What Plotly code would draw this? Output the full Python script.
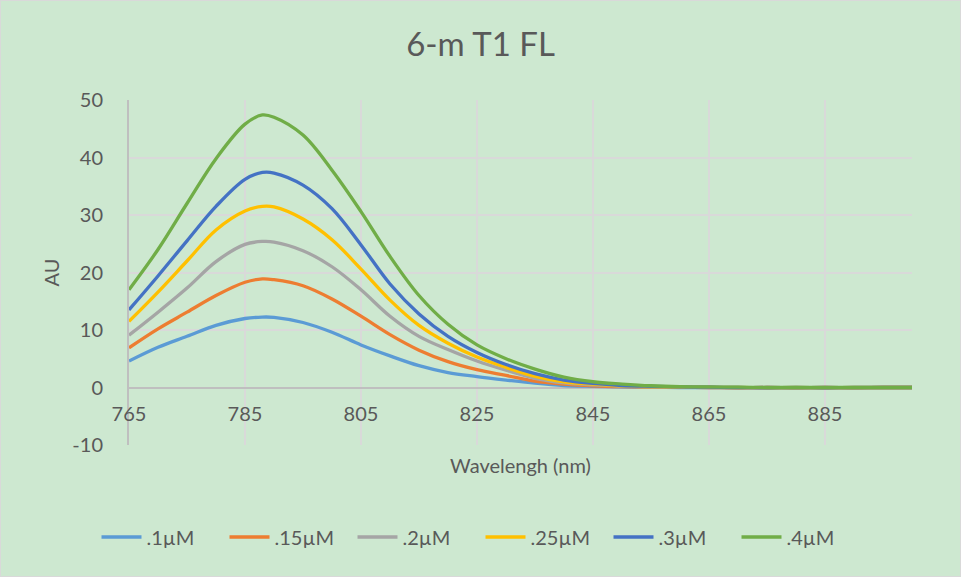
import plotly.graph_objects as go

wavelength = [765, 770, 775, 780, 785, 788, 790, 795, 800, 805, 810, 815, 820, 825,
              830, 835, 840, 845, 850, 855, 860, 865, 870, 875, 880, 885, 890, 895, 900]

s_01 = [4.6, 7.0, 8.9, 10.8, 12.0, 12.25, 12.2, 11.3, 9.6, 7.4, 5.5, 3.8, 2.6, 1.9,
        1.3, 0.75, 0.35, 0.2, 0.1, 0.05, 0.0, 0.0, -0.05, 0.0, -0.05, 0.0, -0.05, 0.0, 0.0]
s_015 = [6.9, 10.2, 13.1, 16.0, 18.3, 18.9, 18.75, 17.7, 15.4, 12.4, 9.2, 6.5, 4.5, 3.1,
         2.1, 1.1, 0.6, 0.3, 0.15, 0.08, 0.03, 0.0, -0.05, 0.0, -0.05, 0.0, -0.05, 0.0, 0.0]
s_02 = [9.1, 13.1, 17.3, 21.9, 24.9, 25.4, 25.3, 23.8, 21.0, 17.0, 12.4, 8.9, 6.6, 4.6,
        3.0, 1.6, 0.8, 0.45, 0.25, 0.12, 0.05, 0.0, -0.05, 0.0, -0.05, 0.0, -0.05, 0.0, 0.0]
s_025 = [11.5, 16.6, 22.0, 27.4, 30.7, 31.5, 31.4, 29.3, 25.7, 20.6, 15.2, 10.8, 7.7, 5.3,
         3.5, 1.95, 1.0, 0.6, 0.3, 0.15, 0.08, 0.03, 0.0, -0.05, 0.0, -0.05, 0.0, 0.0, 0.0]
s_03 = [13.5, 19.4, 25.5, 31.5, 36.2, 37.4, 37.3, 35.2, 31.1, 24.8, 18.0, 12.8, 8.9, 6.1,
        4.0, 2.4, 1.3, 0.7, 0.35, 0.2, 0.1, 0.05, 0.0, -0.05, 0.0, -0.05, 0.0, 0.0, 0.0]
s_04 = [17.0, 24.0, 32.0, 39.8, 45.8, 47.4, 47.0, 43.9, 37.8, 30.6, 22.8, 16.0, 11.0, 7.4,
        5.0, 3.2, 1.8, 1.0, 0.6, 0.3, 0.15, 0.1, 0.05, 0.0, 0.0, 0.0, 0.0, 0.0, 0.0]

series_names = [".1\u00b5M", ".15\u00b5M", ".2\u00b5M", ".25\u00b5M", ".3\u00b5M", ".4\u00b5M"]
series_values = [s_01, s_015, s_02, s_025, s_03, s_04]
series_colors = ["#5B9BD5", "#ED7D31", "#A5A5A5", "#FFC000", "#4472C4", "#70AD47"]

x_ticks = [765, 785, 805, 825, 845, 865, 885]
y_ticks = [-10, 0, 10, 20, 30, 40, 50]

W, H = 961, 577
ML, MR, MT, MB = 129, 49, 100, 132
PW, PH = W - ML - MR, H - MT - MB
BG = "#CDE8D0"
TXT = "#595959"
GRID = "#D9D9D9"
AXIS = "#BFBFBF"
FONT = "Lato"

fig = go.Figure()
for name, vals, col in zip(series_names, series_values, series_colors):
    fig.add_trace(go.Scatter(
        x=wavelength, y=vals, name=name, mode="lines",
        line=dict(color=col, width=3.3, shape="spline", smoothing=1.0),
    ))

fig.update_layout(
    width=W, height=H,
    margin=dict(l=ML, r=MR, t=MT, b=MB, autoexpand=False),
    paper_bgcolor=BG, plot_bgcolor=BG,
    font=dict(family=FONT, color=TXT, size=20),
    title=dict(text="6-m T1 FL", x=0.5, xanchor="center", xref="container",
               y=1 - 44 / H, yref="container", yanchor="middle",
               font=dict(family=FONT, size=33, color=TXT)),
    showlegend=True,
    legend=dict(orientation="h", xref="container", x=0.5, xanchor="center",
                yref="container", y=1 - 537 / H, yanchor="middle",
                font=dict(family=FONT, size=20, color=TXT),
                bgcolor="rgba(0,0,0,0)", itemwidth=40,
                entrywidth=73, entrywidthmode="pixels"),
    xaxis=dict(range=[765, 900], tickmode="array", tickvals=x_ticks,
               ticktext=[str(v) for v in x_ticks],
               showgrid=True, gridcolor=GRID, gridwidth=2,
               zeroline=False, showline=False, ticks="",
               anchor="free", position=(0 - (-10)) / 60,
               ticklabelstandoff=12,
               tickfont=dict(family=FONT, size=20, color=TXT),
               title=dict(text="Wavelengh (nm)", standoff=35,
                          font=dict(family=FONT, size=20, color=TXT))),
    yaxis=dict(range=[-10, 50], tickmode="array", tickvals=y_ticks,
               ticktext=["-10", "0", "10", "20", "30", "40", "50"],
               showgrid=True, gridcolor=GRID, gridwidth=2,
               zeroline=True, zerolinecolor=AXIS, zerolinewidth=2,
               showline=True, linecolor=AXIS, linewidth=2, ticks="",
               ticklabelstandoff=20,
               tickfont=dict(family=FONT, size=20, color=TXT),
               title=dict(text="AU", standoff=7,
                          font=dict(family=FONT, size=20, color=TXT))),
    shapes=[dict(type="rect", xref="paper", yref="paper",
                 x0=-(ML - 0.5) / PW, x1=1 + (MR - 0.5) / PW,
                 y0=-(MB - 0.5) / PH, y1=1 + (MT - 0.5) / PH,
                 line=dict(color="#D9D9D9", width=1), layer="below")],
)

fig.write_html("out.html", config={"displayModeBar": False},
               post_script="document.body.style.margin='0';document.body.style.padding='0';")
